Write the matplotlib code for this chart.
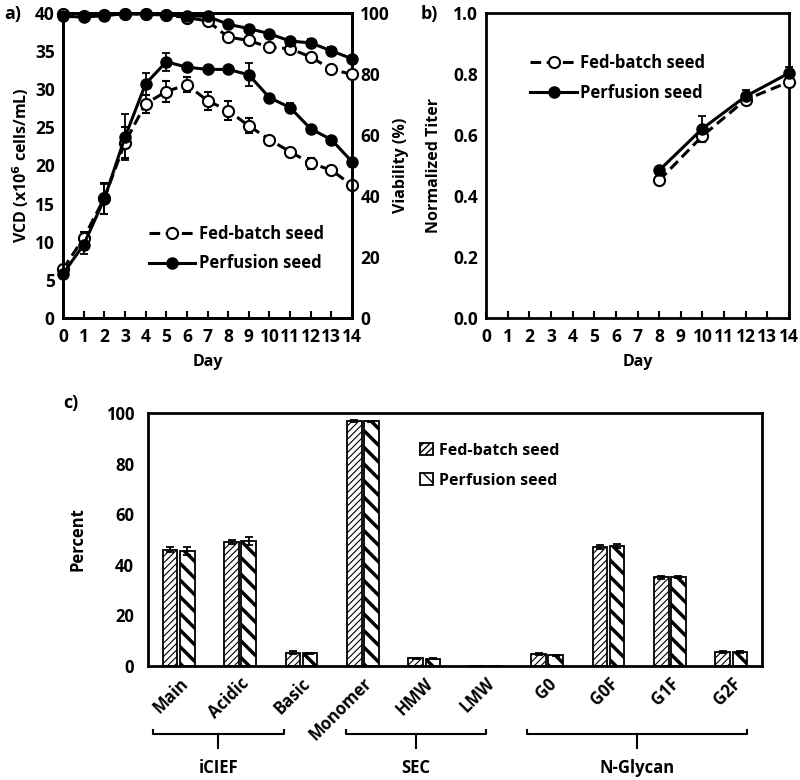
import matplotlib
matplotlib.use("Agg")
import matplotlib.pyplot as plt
import numpy as np
from matplotlib.lines import Line2D
import matplotlib.transforms as mtransforms

plt.rcParams['font.family'] = ['Open Sans', 'DejaVu Sans']
plt.rcParams['font.weight'] = 'bold'
plt.rcParams['axes.labelweight'] = 'bold'

# ---------------- data ----------------
days = list(range(15))
vcd_fb = [6.4, 10.5, 15.7, 23.0, 28.1, 29.7, 30.6, 28.5, 27.2, 25.2, 23.4, 21.8, 20.3, 19.4, 17.4]
vcd_fb_err = [0.3, 0.8, 2.0, 2.0, 1.2, 1.4, 1.0, 1.2, 1.2, 1.0, 0.3, 0.3, 0.7, 0.5, 0.3]
vcd_p = [5.8, 9.6, 15.6, 23.7, 30.7, 33.6, 32.9, 32.6, 32.6, 31.9, 28.9, 27.6, 24.8, 23.4, 20.5]
vcd_p_err = [0.3, 1.2, 2.0, 3.0, 1.4, 1.2, 0.3, 0.3, 0.3, 1.5, 0.4, 0.6, 0.3, 0.3, 0.3]
via_fb = [99.6, 99.1, 99.3, 99.8, 99.6, 99.3, 98.5, 97.4, 92.1, 91.0, 88.7, 88.3, 85.6, 81.5, 79.9]
via_fb_err = [0.3, 0.3, 0.3, 0.3, 0.3, 0.3, 0.3, 0.5, 0.5, 0.5, 0.5, 0.5, 0.8, 1.0, 0.5]
via_p = [98.9, 98.7, 99.1, 99.8, 99.6, 99.3, 99.1, 98.9, 96.3, 94.9, 93.2, 90.8, 90.2, 87.6, 85.0]
via_p_err = [0.3, 0.3, 0.3, 0.3, 0.3, 0.3, 0.3, 0.3, 0.3, 0.3, 0.5, 0.5, 1.2, 1.2, 0.5]

titer_days = [8, 10, 12, 14]
titer_fb = [0.451, 0.597, 0.716, 0.774]
titer_fb_err = [0.005, 0.02, 0.01, 0.01]
titer_p = [0.484, 0.621, 0.727, 0.803]
titer_p_err = [0.005, 0.04, 0.02, 0.02]

categories = ['Main', 'Acidic', 'Basic', 'Monomer', 'HMW', 'LMW', 'G0', 'G0F', 'G1F', 'G2F']
pct_fb = [46.0, 49.0, 5.3, 96.8, 3.0, 0.1, 4.8, 47.0, 35.0, 5.5]
pct_fb_err = [1.0, 0.7, 0.5, 0.3, 0.2, 0.05, 0.4, 0.8, 0.5, 0.3]
pct_p = [45.5, 49.5, 5.0, 96.8, 2.9, 0.1, 4.2, 47.5, 35.2, 5.5]
pct_p_err = [1.5, 1.5, 0.3, 0.2, 0.2, 0.05, 0.3, 0.8, 0.4, 0.4]
groups = ['iCIEF', 'SEC', 'N-Glycan']
group_spans = [(-0.42, 1.71), (2.72, 5.0), (5.67, 9.26)]

# ---------------- figure ----------------
W, H = 800, 780
fig = plt.figure(figsize=(W / 100, H / 100), dpi=100)

def ax_px(x0, y0, x1, y1):
    return fig.add_axes([x0 / W, 1 - y1 / H, (x1 - x0) / W, (y1 - y0) / H])

LW = 2.2
MS = 8
tick_fs = 12.5
lab_fs = 11.5
leg_fs = 12
DASH = (0, (3.5, 1.8))

def style_axes(ax):
    for s in ax.spines.values():
        s.set_linewidth(2)
    ax.tick_params(axis='both', labelsize=tick_fs, width=1.5)

ebkw = dict(capsize=3, elinewidth=1.3, capthick=1.3, ecolor='black')

# ---- panel a ----
axa = ax_px(63, 13, 352, 318)
axa2 = axa.twinx()
style_axes(axa)
axa.errorbar(days, vcd_fb, yerr=vcd_fb_err, color='black', lw=LW, ls=DASH,
             marker='o', ms=MS, mfc='white', mec='black', mew=1.5, clip_on=False, zorder=3, **ebkw)
axa.errorbar(days, vcd_p, yerr=vcd_p_err, color='black', lw=LW, ls='-',
             marker='o', ms=MS, mfc='black', mec='black', clip_on=False, zorder=3, **ebkw)
axa2.errorbar(days, via_fb, yerr=via_fb_err, color='black', lw=LW, ls=DASH,
              marker='o', ms=MS, mfc='white', mec='black', mew=1.5, clip_on=False, zorder=3, **ebkw)
axa2.errorbar(days, via_p, yerr=via_p_err, color='black', lw=LW, ls='-',
              marker='o', ms=MS, mfc='black', mec='black', clip_on=False, zorder=3, **ebkw)
axa.set_xlim(0, 14)
axa.set_ylim(0, 40)
axa2.set_ylim(0, 100)
axa.set_xticks(days)
axa.set_yticks(range(0, 41, 5))
axa2.set_yticks(range(0, 101, 20))
axa.tick_params(axis='x', direction='in', length=5, pad=7)
axa.tick_params(axis='y', direction='out', length=0, pad=6)
axa2.tick_params(axis='y', direction='out', length=0, pad=6, labelsize=tick_fs)
for s in axa2.spines.values():
    s.set_linewidth(2)
axa.set_ylabel('VCD (x10$^\\mathbf{6}$ cells/mL)', fontsize=lab_fs, labelpad=3)
axa2.set_ylabel('Viability (%)', fontsize=lab_fs, labelpad=2)
axa.set_xlabel('Day', fontsize=lab_fs, labelpad=6)
h_fb = Line2D([], [], color='black', lw=LW, ls=DASH, marker='o', ms=MS, mfc='white', mew=1.5)
h_p = Line2D([], [], color='black', lw=LW, ls='-', marker='o', ms=MS, mfc='black')
axa.legend([h_fb, h_p], ['Fed-batch seed', 'Perfusion seed'], loc='upper left',
           bbox_to_anchor=(0.245, 0.355), frameon=False, fontsize=leg_fs, handlelength=2.8,
           handletextpad=0.2, labelspacing=0.7)
fig.text(4 / W, 1 - 14 / H, 'a)', fontsize=13, fontweight='bold', va='center')

# ---- panel b ----
axb = ax_px(486, 13, 789, 318)
style_axes(axb)
axb.errorbar(titer_days, titer_fb, yerr=titer_fb_err, color='black', lw=LW, ls=DASH,
             marker='o', ms=MS, mfc='white', mec='black', mew=1.5, clip_on=False, zorder=3, **ebkw)
axb.errorbar(titer_days, titer_p, yerr=titer_p_err, color='black', lw=LW, ls='-',
             marker='o', ms=MS, mfc='black', mec='black', clip_on=False, zorder=3, **ebkw)
axb.set_xlim(0, 14)
axb.set_ylim(0, 1.0)
axb.set_xticks(days)
axb.set_yticks(np.arange(0, 1.01, 0.2))
axb.yaxis.set_major_formatter(matplotlib.ticker.FormatStrFormatter('%.1f'))
axb.tick_params(axis='x', direction='in', length=5, pad=7)
axb.tick_params(axis='y', direction='out', length=0, pad=6)
axb.set_ylabel('Normalized Titer', fontsize=lab_fs, labelpad=8)
axb.set_xlabel('Day', fontsize=lab_fs, labelpad=6)
axb.legend([h_fb, h_p], ['Fed-batch seed', 'Perfusion seed'], loc='upper left',
           bbox_to_anchor=(0.097, 0.915), frameon=False, fontsize=leg_fs, handlelength=2.8,
           handletextpad=0.2, labelspacing=0.7)
fig.text(421 / W, 1 - 14 / H, 'b)', fontsize=13, fontweight='bold', va='center')

# ---- panel c ----
axc = ax_px(148, 413, 762, 666)
style_axes(axc)
x = np.arange(len(categories))
bw = 0.235
off = 0.14
bars_fb = axc.bar(x - off, pct_fb, bw, yerr=pct_fb_err, color='white', edgecolor='black',
                  linewidth=1.3, hatch='/////', capsize=3,
                  error_kw=dict(elinewidth=1.3, capthick=1.3, ecolor='black'))
bars_p = axc.bar(x + off, pct_p, bw, yerr=pct_p_err, color='white', edgecolor='black',
                 linewidth=1.3, hatch='\\\\', capsize=3,
                 error_kw=dict(elinewidth=1.3, capthick=1.3, ecolor='black'))
for b in bars_fb:
    try:
        b.set_hatch_linewidth(0.8)
    except Exception:
        pass
for b in bars_p:
    try:
        b.set_hatch_linewidth(2.5)
    except Exception:
        pass
axc.set_xlim(-0.5, len(categories) - 0.5)
axc.set_ylim(0, 100)
axc.set_yticks(range(0, 101, 20))
axc.set_xticks(x)
axc.set_xticklabels(categories, rotation=45, ha='right', rotation_mode='anchor', fontsize=12)
axc.tick_params(axis='x', length=0, pad=6, labelsize=12)
axc.tick_params(axis='y', length=0, pad=10, labelsize=12)
axc.set_ylabel('Percent', fontsize=12, labelpad=14)
axc.legend([bars_fb, bars_p], ['Fed-batch seed', 'Perfusion seed'], loc='upper left',
           bbox_to_anchor=(0.42, 0.94), frameon=False, fontsize=11.5, handlelength=0.8,
           handleheight=0.8, handletextpad=0.4, labelspacing=0.9)
fig.text(63 / W, 1 - 403 / H, 'c)', fontsize=13, fontweight='bold', va='center')

trans = mtransforms.blended_transform_factory(axc.transData, axc.transAxes)
hc = 253.0
yb = (666 - 734) / hc
yup = (666 - 730) / hc
ydn = (666 - 748) / hc
ylab = (666 - 768) / hc
for g, (a, b) in zip(groups, group_spans):
    axc.plot([a, a, b, b], [yup, yb, yb, yup], color='black', lw=1.5, transform=trans, clip_on=False)
    m = (a + b) / 2
    axc.plot([m, m], [yb, ydn], color='black', lw=1.5, transform=trans, clip_on=False)
    axc.text(m, ylab, g, transform=trans, ha='center', va='center', fontsize=12, fontweight='bold')

fig.savefig('out.png', dpi=100)
